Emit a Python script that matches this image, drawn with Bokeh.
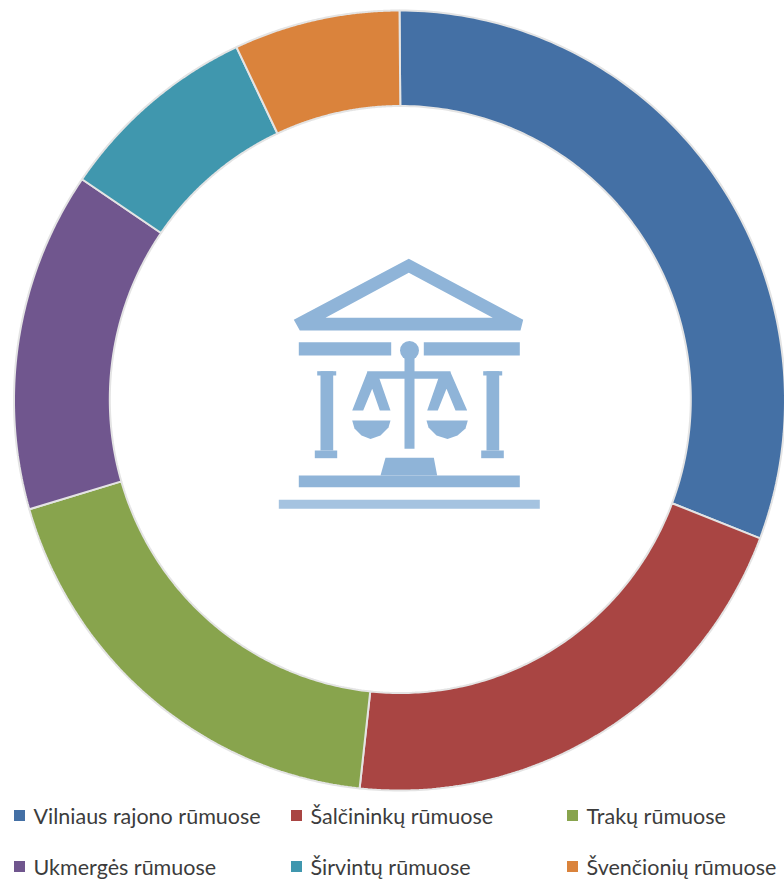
import numpy as np
from bokeh.core.properties import value
from bokeh.embed import file_html
from bokeh.models import Range1d
from bokeh.plotting import figure
from bokeh.resources import INLINE

categories = ["Vilniaus rajono rūmuose", "Šalčininkų rūmuose", "Trakų rūmuose",
              "Ukmergės rūmuose", "Širvintų rūmuose", "Švenčionių rūmuose"]
shares = [30.75, 20.9, 18.85, 14.1, 8.45, 6.95]
colors = ["#4470A5", "#A94543", "#88A44D", "#70568E", "#4097AE", "#DA833C"]

W, H = 784, 879
CX, CY = 399, 400
RX_O, RY_O = 385.5, 390
CX_I, CY_I = 399.8, 399
RX_I, RY_I = 290.5, 293.5

p = figure(width=W, height=H, x_range=Range1d(0, W), y_range=Range1d(H, 0),
           output_backend="svg", toolbar_location=None, min_border=0,
           outline_line_color=None, background_fill_color="white")
p.margin = (0, 0, 0, 0)
p.axis.visible = False
p.grid.visible = False

# Ring
edges = np.concatenate([[0], np.cumsum(shares)]) / np.sum(shares) * 2 * np.pi
xs, ys = [], []
for a0, a1 in zip(edges[:-1], edges[1:]):
    t = np.linspace(a0, a1, 120)
    xs.append(np.r_[CX + RX_O * np.sin(t), CX_I + RX_I * np.sin(t[::-1])])
    ys.append(np.r_[CY - RY_O * np.cos(t), CY_I - RY_I * np.cos(t[::-1])])
p.patches(xs, ys, fill_color=colors, line_color="#E4E4E4", line_width=2)

# Courthouse icon
ICON = "#8FB4D8"
p.multi_polygons(
    xs=[[[[293.3, 299.3, 520, 522.7, 408.3], [325, 492.3, 408.3]]]],
    ys=[[[[319.3, 330, 330, 319.3, 258.3], [317.3, 317.3, 272.3]]]],
    fill_color=ICON, line_color=None)
shapes = [
    ([366.7, 376.7, 390, 379.3, 371.7, 362.7, 351.7], [371.7, 371.7, 410, 410, 388.3, 410, 410]),
    ([450, 440, 426.7, 437.3, 446, 455, 466.7], [371.7, 371.7, 410, 410, 388.3, 410, 410]),
    ([351.7, 390, 388, 380, 370, 361, 354], [420, 420, 427, 435, 438.5, 435, 428]),
    ([426, 467.3, 465, 457, 447, 436, 428], [420, 420, 428, 435, 438.5, 435, 427]),
    ([385, 433.3, 436.7, 380], [457.3, 457.3, 475, 475]),
]
p.patches([s[0] for s in shapes], [s[1] for s in shapes], fill_color=ICON, line_color=None)
bars = [
    (298.3, 390.7, 341.7, 355), (423.3, 519.3, 341.7, 355),
    (404, 414, 345, 448.3), (366.7, 450, 370.7, 378.3),
    (316.7, 335.7, 370.7, 375), (320, 332.7, 370.7, 450), (314.3, 336.7, 450, 457.7),
    (482.7, 501.7, 370.7, 375), (486, 498.7, 370.7, 450), (480.7, 503.3, 450, 457.7),
    (298.3, 519.3, 475, 486.7),
]
p.quad(left=[b[0] for b in bars], right=[b[1] for b in bars],
       top=[b[2] for b in bars], bottom=[b[3] for b in bars],
       fill_color=ICON, line_color=None)
p.quad(left=[278.3], right=[539.3], top=[499.3], bottom=[508.3], fill_color="#A5C3E0", line_color=None)
p.scatter([409], [350], size=19, marker="circle", fill_color=ICON, line_color=None)

# Legend
LX = [19, 296, 572, 19, 296, 572]
LY = [815, 815, 815, 866, 866, 866]
p.scatter(LX, LY, marker="square", size=11, fill_color=colors, line_color=None)
p.text([x + 14 for x in LX], LY, text=categories,
       text_font=value("Lato"), text_font_size="21.5px", text_color="#3C3C3C",
       text_align="left", text_baseline="middle")

open("out.html", "w").write(file_html(p, INLINE))
